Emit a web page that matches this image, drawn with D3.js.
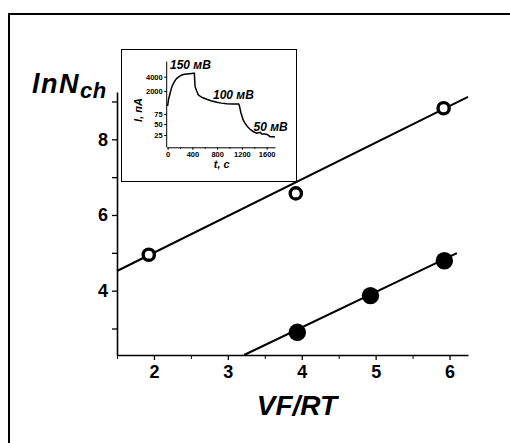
<!DOCTYPE html>
<html><head><meta charset="utf-8">
<script src="https://cdn.jsdelivr.net/npm/d3@7"></script>
<style>body{margin:0;background:#fff}svg{display:block}text{font-family:"Liberation Sans",Arial,sans-serif;font-weight:bold}</style>
</head><body><svg id="c" width="510" height="443"></svg>
<script>
// ---- data ----
const openX = [1.93, 3.92, 5.92];
const openY = [4.95, 6.57, 8.82];
const filledX = [3.94, 4.93, 5.93];
const filledY = [2.90, 3.87, 4.79];
const openFitX = [1.5, 6.25];
const openFitY = [4.52, 9.12];
const filledFitX = [3.22, 6.10];
const filledFitY = [2.30, 4.99];
const xTicks = [2, 3, 4, 5, 6];
const xMinor = [1.5, 2.5, 3.5, 4.5, 5.5];
const yTicks = [3, 4, 5, 6, 7, 8, 9];
const yLabels = [4, 6, 8];
// inset trace: time (s) and current (pA)
const insetT = [0, 15, 40, 65, 94, 120, 148, 190, 229, 270, 310, 360, 416, 432, 438, 444, 470, 497, 560, 632, 700, 794, 870, 955, 1050, 1148, 1160, 1169, 1185, 1197, 1220, 1250, 1290, 1331, 1380, 1439, 1470, 1500, 1519, 1560, 1600, 1630, 1653, 1700, 1734];
const insetI = [745, 1300, 1808, 2500, 3077, 3450, 3777, 4050, 4238, 4330, 4378, 4420, 4476, 4476, 3400, 2602, 2000, 1665, 1450, 1305, 1180, 1054, 985, 937, 920, 912, 760, 552, 160, 72, 60, 52, 44, 38, 33, 29, 30, 31, 27, 27, 26.6, 24, 21, 21, 20];
const insetXTicks = [0, 400, 800, 1200, 1600];
const insetXMinor = [200, 600, 1000, 1400];
const insetYTicks = [25, 50, 75, 2000, 4000];
const insetYBreaks = [0, 25, 50, 75, 2000, 4000, 6100];

const svg = d3.select("#c");
// outer frame
svg.append("rect").attr("x", 9).attr("y", 14).attr("width", 520).attr("height", 450)
  .attr("fill", "none").attr("stroke", "#000").attr("stroke-width", 2);

const x = d3.scaleLinear().domain([1.5, 6.25]).range([117, 468]);
const y = d3.scaleLinear().domain([2.3, 9.25]).range([355, 92]);

// axes
const gx = svg.append("g").attr("transform", "translate(0,355)")
  .call(d3.axisBottom(x).tickValues(xTicks).tickSize(5).tickSizeOuter(0).tickPadding(5).tickFormat(d3.format("d")));
svg.append("g").attr("transform", "translate(0,355)")
  .call(d3.axisBottom(x).tickValues(xMinor).tickSize(4).tickSizeOuter(0).tickFormat(""))
  .select(".domain").remove();
const gy = svg.append("g").attr("transform", "translate(117,0)")
  .call(d3.axisLeft(y).tickValues(yTicks).tickSize(5).tickSizeOuter(0).tickPadding(4)
    .tickFormat(d => yLabels.includes(d) ? d : ""));
[gx, gy].forEach(g => {
  g.select(".domain").attr("stroke-width", 1.6);
  g.selectAll(".tick line").attr("stroke-width", 1.3);
  g.selectAll("text").attr("font-size", 18).attr("font-weight", "bold").attr("fill", "#000")
    .attr("font-family", '"Liberation Sans",Arial,sans-serif');
});

// fit lines
const line = d3.line().x(d => x(d[0])).y(d => y(d[1]));
svg.append("path").datum(openFitX.map((v, i) => [v, openFitY[i]])).attr("d", line)
  .attr("stroke", "#000").attr("stroke-width", 2).attr("fill", "none");
svg.append("path").datum(filledFitX.map((v, i) => [v, filledFitY[i]])).attr("d", line)
  .attr("stroke", "#000").attr("stroke-width", 2).attr("fill", "none");

// points
svg.selectAll(".op").data(openX).enter().append("circle")
  .attr("cx", d => x(d)).attr("cy", (d, i) => y(openY[i])).attr("r", 5.6)
  .attr("fill", "#fff").attr("stroke", "#000").attr("stroke-width", 3.4);
svg.selectAll(".fp").data(filledX).enter().append("circle")
  .attr("cx", d => x(d)).attr("cy", (d, i) => y(filledY[i])).attr("r", 8.7)
  .attr("fill", "#000");

// axis titles
svg.append("text").attr("x", 297).attr("y", 415).attr("text-anchor", "middle")
  .attr("font-size", 28).attr("font-style", "italic").text("VF/RT");
const yt = svg.append("text").attr("x", 32).attr("y", 93).attr("font-size", 27).attr("font-style", "italic")
  .attr("letter-spacing", 1.5);
yt.append("tspan").text("lnN");
yt.append("tspan").attr("font-size", 22).attr("dy", 5).attr("letter-spacing", 0.5).text("ch");

// ---- inset ----
svg.append("rect").attr("x", 121.5).attr("y", 49.5).attr("width", 175).attr("height", 132)
  .attr("fill", "#fff").attr("stroke", "#000").attr("stroke-width", 1);
const ix = d3.scaleLinear().domain([-15, 1735]).range([166.7, 275]);
const iy = d3.scaleLinear().domain(insetYBreaks).range([145.5, 135, 124, 114, 91, 76.7, 61.7]);
const igx = svg.append("g").attr("transform", "translate(0,147.3)")
  .call(d3.axisBottom(ix).tickValues(insetXTicks).tickSize(2.5).tickSizeOuter(0).tickPadding(1.5).tickFormat(d3.format("d")));
svg.append("g").attr("transform", "translate(0,147.3)")
  .call(d3.axisBottom(ix).tickValues(insetXMinor).tickSize(1.5).tickSizeOuter(0).tickFormat(""))
  .select(".domain").remove();
const igy = svg.append("g").attr("transform", "translate(166.7,0)")
  .call(d3.axisLeft(iy).tickValues(insetYTicks).tickSize(2.5).tickSizeOuter(0).tickPadding(1.5).tickFormat(d3.format("d")));
igy.select(".domain").attr("d", "M0,61.7V147.3");
[igx, igy].forEach(g => {
  g.selectAll("text").attr("font-size", 7.5).attr("font-weight", "bold").attr("fill", "#000")
    .attr("font-family", '"Liberation Sans",Arial,sans-serif');
});
svg.append("path").datum(insetT.map((t, i) => [t, insetI[i]]))
  .attr("d", d3.line().x(d => ix(d[0])).y(d => iy(d[1])))
  .attr("fill", "none").attr("stroke", "#000").attr("stroke-width", 1.5);
const lbl = (t, xx, yy, s) => svg.append("text").attr("x", xx).attr("y", yy).attr("font-size", s)
  .attr("font-style", "italic").text(t);
lbl("150 мВ", 170, 69, 12);
lbl("100 мВ", 213, 99, 12);
lbl("50 мВ", 253.5, 131, 12);
svg.append("text").attr("x", 221.7).attr("y", 168).attr("text-anchor", "middle")
  .attr("font-size", 11).attr("font-style", "italic").text("t, с");
svg.append("text").attr("transform", "translate(142,110) rotate(-90)").attr("text-anchor", "middle")
  .attr("font-size", 11).attr("font-style", "italic").text("I, пА");
</script></body></html>
